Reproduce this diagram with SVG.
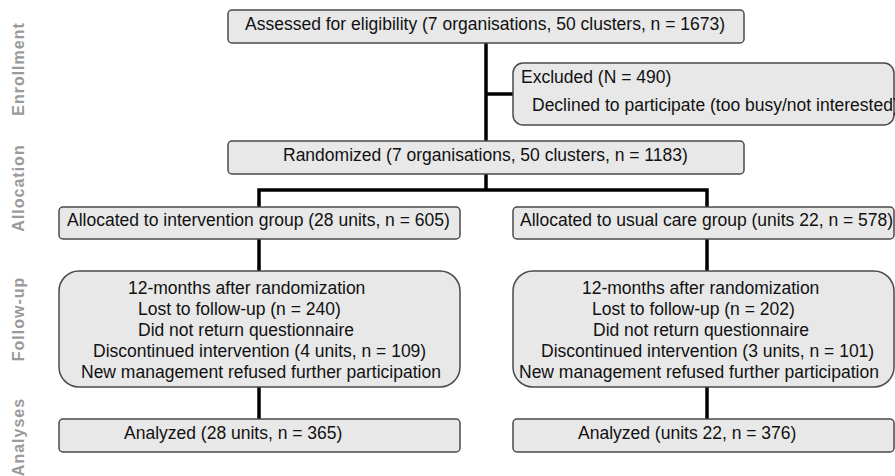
<svg xmlns="http://www.w3.org/2000/svg" width="895" height="476" viewBox="0 0 895 476">
<style>
.box{fill:#e8e8e8;stroke:#4a4a4a;stroke-width:1.5}
.t{font-family:"Liberation Sans",Arial,sans-serif;font-size:17.5px;fill:#111}
.side{font-family:"Liberation Sans",Arial,sans-serif;font-size:16px;font-weight:bold;fill:#9a9a9a;letter-spacing:1px;text-anchor:middle}
.ln{fill:none;stroke:#000;stroke-width:3.5}
</style>
<rect width="895" height="476" fill="#fff"/>
<g id="stage-labels">
<text class="side" transform="translate(24,69) rotate(-90)">Enrollment</text>
<text class="side" transform="translate(24,188) rotate(-90)">Allocation</text>
<text class="side" transform="translate(24,319) rotate(-90)">Follow-up</text>
<text class="side" transform="translate(24,437) rotate(-90)">Analyses</text>
</g>
<g id="connectors">
<path class="ln" d="M486,43 V141"/>
<path class="ln" d="M486,94 H513"/>
<path class="ln" d="M486,174 V190 M259,207 V190 H707 V207"/>
<path class="ln" d="M259,239 V271 M259,387 V419"/>
<path class="ln" d="M707,239 V271 M707,387 V419"/>
</g>
<g id="assessed">
<rect class="box" x="228" y="10" width="516" height="33" rx="4"/>
<text class="t" x="245" y="30">Assessed for eligibility (7 organisations, 50 clusters, n = 1673)</text>
</g>
<g id="excluded">
<rect class="box" x="513" y="63" width="381" height="62" rx="10"/>
<text class="t" x="521" y="83">Excluded (N = 490)</text>
<text class="t" x="532" y="110.5">Declined to participate (too busy/not interested)</text>
</g>
<g id="randomized">
<rect class="box" x="228" y="141" width="516" height="33" rx="4"/>
<text class="t" x="283" y="161">Randomized (7 organisations, 50 clusters, n = 1183)</text>
</g>
<g id="alloc-intervention">
<rect class="box" x="59" y="207" width="401" height="32" rx="4"/>
<text class="t" x="67" y="226">Allocated to intervention group (28 units, n = 605)</text>
</g>
<g id="alloc-usual">
<rect class="box" x="513" y="207" width="381" height="32" rx="4"/>
<text class="t" x="520" y="226">Allocated to usual care group (units 22, n = 578)</text>
</g>
<g id="followup-intervention">
<rect class="box" x="59" y="271" width="401" height="116" rx="20"/>
<text class="t" x="128" y="294.3">12-months after randomization</text>
<text class="t" x="138" y="315.3">Lost to follow-up (n = 240)</text>
<text class="t" x="138" y="335.5">Did not return questionnaire</text>
<text class="t" x="93" y="356.5">Discontinued intervention (4 units, n = 109)</text>
<text class="t" x="81" y="377.5">New management refused further participation</text>
</g>
<g id="followup-usual">
<rect class="box" x="513" y="271" width="381" height="116" rx="20"/>
<text class="t" x="582" y="294.3">12-months after randomization</text>
<text class="t" x="592" y="315.3">Lost to follow-up (n = 202)</text>
<text class="t" x="593" y="335.5">Did not return questionnaire</text>
<text class="t" x="541" y="356.5">Discontinued intervention (3 units, n = 101)</text>
<text class="t" x="519" y="377.5">New management refused further participation</text>
</g>
<g id="analyzed-intervention">
<rect class="box" x="59" y="419" width="401" height="33" rx="4"/>
<text class="t" x="124" y="439.3">Analyzed (28 units, n = 365)</text>
</g>
<g id="analyzed-usual">
<rect class="box" x="513" y="419" width="381" height="33" rx="4"/>
<text class="t" x="578" y="439.3">Analyzed (units 22, n = 376)</text>
</g>
</svg>
